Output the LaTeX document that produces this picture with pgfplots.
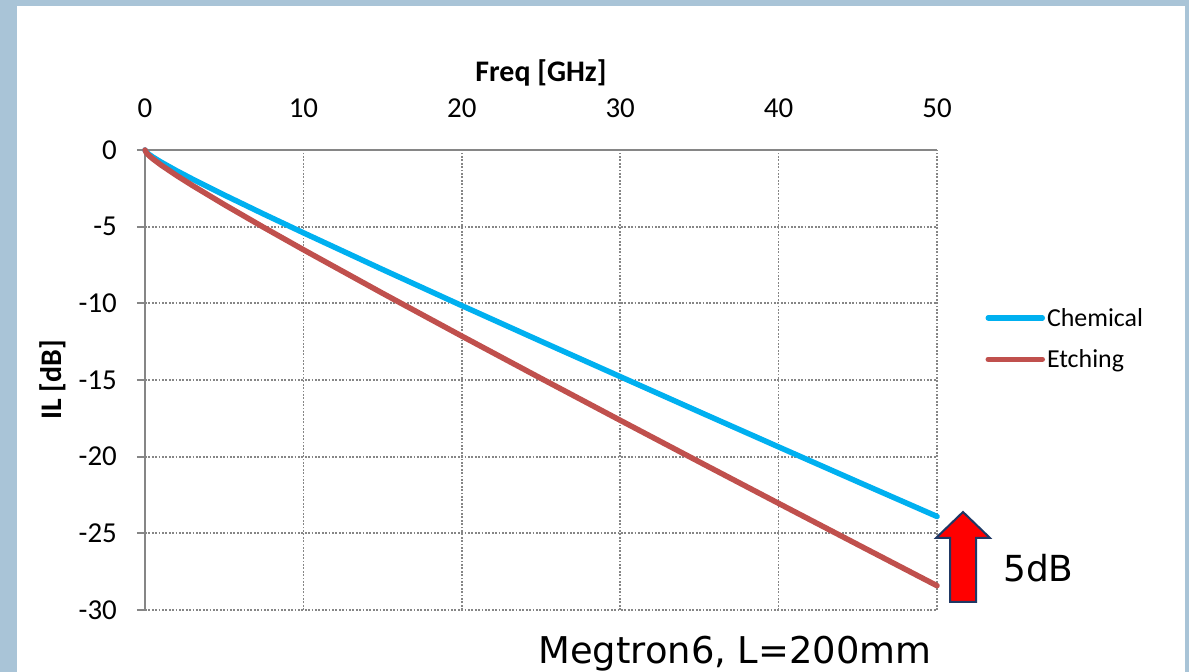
\documentclass[border=0pt]{standalone}
\usepackage{pgfplots}
\pgfplotsset{compat=1.18}
\usepackage{fontspec}
\setmainfont{Carlito}
\newfontfamily\dejavu{DejaVu Sans}
\definecolor{bgblue}{HTML}{A9C4D7}
\definecolor{gridgray}{HTML}{868686}
\definecolor{chemblue}{HTML}{00B0F0}
\definecolor{etchred}{HTML}{C0504D}
\definecolor{navy}{HTML}{1F3864}
\begin{document}
\begin{tikzpicture}[x=1bp,y=1bp]
\useasboundingbox (0,0) rectangle (1189,672);
\fill[bgblue] (0,0) rectangle (1189,672);
\fill[white] (17,0) rectangle (1185,666);
\begin{axis}[
  at={(145bp,62bp)}, anchor=south west,
  scale only axis, width=792bp, height=460bp,
  xmin=0, xmax=50, ymin=-30, ymax=0,
  axis x line*=top, axis y line*=left,
  axis line style={gridgray, line width=1.8bp},
  xtick={0,10,20,30,40,50}, ytick={0,-5,-10,-15,-20,-25,-30},
  grid=major,
  major grid style={gridgray, line width=1.7bp, dash pattern=on 1.7bp off 1.7bp},
  x tick style={draw=none},
  y tick style={gridgray, line width=1.8bp},
  tick align=outside, major tick length=8bp,
  /pgf/number format/assume math mode=true,
  tick label style={font=\fontsize{29}{34}\selectfont, inner sep=0pt},
  xticklabel shift=24bp, yticklabel shift=20bp,
  xlabel={\textbf{Freq [GHz]}}, ylabel={\textbf{IL [dB]}},
  label style={font=\fontsize{30}{36}\selectfont},
  xlabel style={at={(axis description cs:0.5,1.168)}, anchor=center},
  ylabel style={at={(axis description cs:-0.117,0.5)}, anchor=center},
  legend style={at={(axis description cs:1.061,0.59)}, anchor=west, draw=none, fill=none,
    font=\fontsize{26}{30}\selectfont, row sep=18bp, inner sep=0pt},
  legend cell align=left,
  legend image code/.code={\draw[#1] (0bp,0bp) -- (54bp,0bp);},
  clip=false,
]
\addplot[chemblue, line width=5.5bp, line cap=round] coordinates {
(0,0) (0.1,-0.155) (0.25,-0.285) (0.5,-0.465) (1,-0.783) (2,-1.358) (3,-1.899)
(5,-2.934) (7.5,-4.182) (10,-5.40) (15,-7.795) (20,-10.15) (25,-12.475)
(30,-14.78) (35,-17.08) (40,-19.365) (45,-21.64) (50,-23.9)};
\addlegendentry{Chemical}
\addplot[etchred, line width=5.5bp, line cap=round] coordinates {
(0,0) (0.1,-0.198) (0.25,-0.361) (0.5,-0.583) (1,-0.971) (2,-1.667) (3,-2.318)
(5,-3.559) (7.5,-5.05) (10,-6.503) (15,-9.346) (20,-12.137) (25,-14.895)
(30,-17.629) (35,-20.345) (40,-23.046) (45,-25.736) (50,-28.416)};
\addlegendentry{Etching}
\end{axis}
\draw[navy, line width=2bp, fill=red, line join=miter]
  (963,160) -- (990,134) -- (976,134) -- (976,70) -- (950,70) -- (950,134) -- (936,134) -- cycle;
\node[anchor=west, inner sep=0pt, font=\dejavu\fontsize{36}{40}\selectfont] at (1003,104) {5dB};
\node[anchor=base, inner sep=0pt, font=\dejavu\fontsize{37}{40}\selectfont] at (735,8) {Megtron6, L=200mm};
\end{tikzpicture}
\end{document}
